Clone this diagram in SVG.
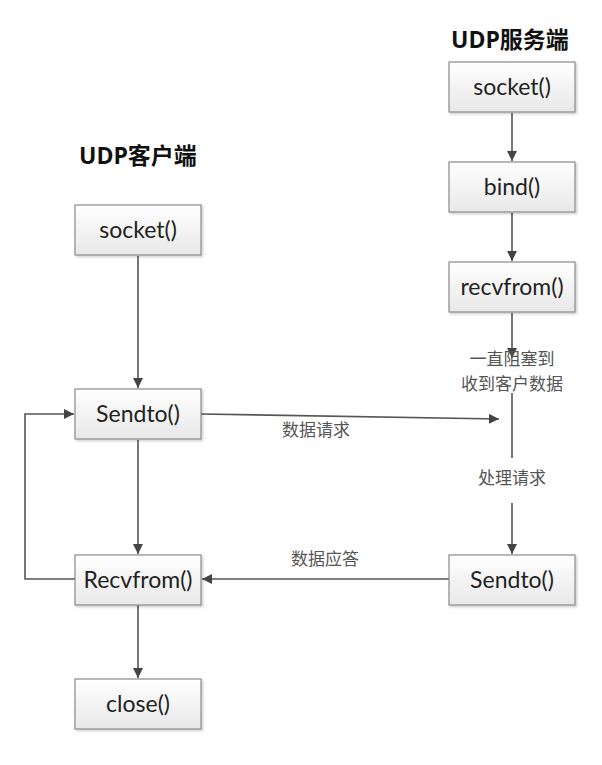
<svg xmlns="http://www.w3.org/2000/svg" width="602" height="765" viewBox="0 0 602 765">
<style>
.box{fill:url(#g);stroke:#8a8a8a;stroke-width:1.2}
.lbl{font-family:Lato,"Open Sans","Noto Sans CJK SC",sans-serif;font-size:23px;fill:#222;text-anchor:middle}
.title{font-family:"Open Sans","Noto Sans CJK SC",sans-serif;font-weight:bold;font-size:23px;fill:#111}
.note{font-family:"Noto Sans CJK SC",sans-serif;font-size:17px;fill:#555;text-anchor:middle}
.ln{stroke:#555;stroke-width:1.6;fill:none}
</style>
<defs>
<linearGradient id="g" x1="0" y1="0" x2="0" y2="1"><stop offset="0" stop-color="#ffffff"/><stop offset="1" stop-color="#e8e8e8"/></linearGradient>
<filter id="sh" x="-10%" y="-10%" width="130%" height="140%"><feDropShadow dx="1.5" dy="1.5" stdDeviation="1" flood-color="#000" flood-opacity="0.2"/></filter>
<marker id="a" viewBox="0 0 10 10" refX="10" refY="5" markerWidth="10" markerHeight="10" markerUnits="userSpaceOnUse" orient="auto"><path d="M0,0 L10,5 L0,10 z" fill="#444"/></marker>
</defs>
<rect width="602" height="765" fill="#fff"/>
<text class="title" x="451" y="48">UDP服务端</text>
<text class="title" x="79" y="164">UDP客户端</text>
<g id="connectors">
<line class="ln" x1="512" y1="113" x2="512" y2="161" marker-end="url(#a)"/>
<line class="ln" x1="512" y1="213" x2="512" y2="261" marker-end="url(#a)"/>
<line class="ln" x1="512" y1="313" x2="512" y2="358" marker-end="url(#a)"/>
<line class="ln" x1="512" y1="393" x2="512" y2="458"/>
<line class="ln" x1="512" y1="503" x2="512" y2="554" marker-end="url(#a)"/>
<line class="ln" x1="138" y1="256" x2="138" y2="388" marker-end="url(#a)"/>
<line class="ln" x1="138" y1="440" x2="138" y2="554" marker-end="url(#a)"/>
<line class="ln" x1="138" y1="605" x2="138" y2="678" marker-end="url(#a)"/>
<polyline class="ln" points="75,579 25,579 25,414 74,414" marker-end="url(#a)"/>
<line class="ln" x1="201" y1="414" x2="499" y2="419" marker-end="url(#a)"/>
<line class="ln" x1="449" y1="579" x2="202" y2="579" marker-end="url(#a)"/>
<text class="note" x="316" y="436">数据请求</text>
<text class="note" x="325" y="565">数据应答</text>
<text class="note" x="512" y="365">一直阻塞到</text>
<text class="note" x="512" y="390">收到客户数据</text>
<text class="note" x="512" y="484">处理请求</text>
</g>
<g id="s-socket"><rect class="box" filter="url(#sh)" x="449" y="62" width="126" height="50"/><text class="lbl" x="512" y="95">socket()</text></g>
<g id="s-bind"><rect class="box" filter="url(#sh)" x="449" y="162" width="126" height="50"/><text class="lbl" x="512" y="195">bind()</text></g>
<g id="s-recvfrom"><rect class="box" filter="url(#sh)" x="449" y="262" width="126" height="50"/><text class="lbl" x="512" y="295">recvfrom()</text></g>
<g id="s-sendto"><rect class="box" filter="url(#sh)" x="449" y="555" width="126" height="50"/><text class="lbl" x="512" y="588">Sendto()</text></g>
<g id="c-socket"><rect class="box" filter="url(#sh)" x="75" y="205" width="126" height="50"/><text class="lbl" x="138" y="238">socket()</text></g>
<g id="c-sendto"><rect class="box" filter="url(#sh)" x="75" y="389" width="126" height="50"/><text class="lbl" x="138" y="422">Sendto()</text></g>
<g id="c-recvfrom"><rect class="box" filter="url(#sh)" x="75" y="555" width="126" height="50"/><text class="lbl" x="138" y="588">Recvfrom()</text></g>
<g id="c-close"><rect class="box" filter="url(#sh)" x="75" y="679" width="126" height="50"/><text class="lbl" x="138" y="712">close()</text></g>
</svg>
